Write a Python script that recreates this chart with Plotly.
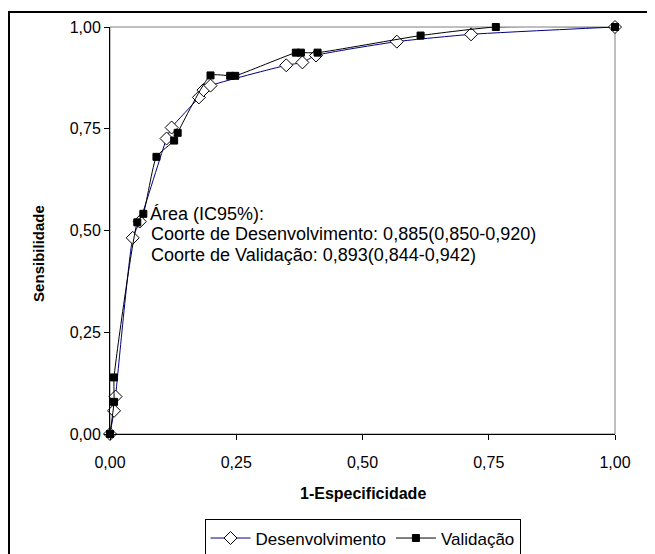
import plotly.graph_objects as go

# Desenvolvimento (development cohort)
dev_x = [0.0, 0.008, 0.011, 0.045, 0.059, 0.112, 0.122, 0.176, 0.185, 0.199,
         0.349, 0.381, 0.408, 0.568, 0.715, 1.0]
dev_y = [0.0, 0.057, 0.092, 0.482, 0.522, 0.726, 0.753, 0.827, 0.845, 0.856,
         0.906, 0.913, 0.930, 0.964, 0.982, 1.0]

# Validação (validation cohort)
val_x = [0.0, 0.008, 0.008, 0.054, 0.066, 0.092, 0.127, 0.134, 0.199, 0.238,
         0.248, 0.368, 0.378, 0.411, 0.615, 0.764, 1.0]
val_y = [0.0, 0.079, 0.139, 0.520, 0.541, 0.681, 0.721, 0.740, 0.881, 0.880,
         0.880, 0.937, 0.937, 0.937, 0.979, 1.0, 1.0]

tick_vals = [0, 0.25, 0.5, 0.75, 1.0]
tick_text = ["0,00", "0,25", "0,50", "0,75", "1,00"]

annot_lines = ["Área (IC95%):",
               "Coorte de Desenvolvimento: 0,885(0,850-0,920)",
               "Coorte de Validação: 0,893(0,844-0,942)"]

x_title = "1-Especificidade"
y_title = "Sensibilidade"

FONT = "Liberation Sans, Arial, sans-serif"

fig = go.Figure()
fig.add_trace(go.Scatter(
    x=dev_x, y=dev_y, name="Desenvolvimento", mode="lines+markers",
    line=dict(color="#000080", width=1, shape="spline", smoothing=0.5),
    marker=dict(symbol="diamond", size=10, color="white",
                line=dict(color="black", width=1)),
    cliponaxis=False,
))
fig.add_trace(go.Scatter(
    x=val_x, y=val_y, name="Validação", mode="lines+markers",
    line=dict(color="black", width=1, shape="spline", smoothing=0.5),
    marker=dict(symbol="square", size=7, color="black",
                line=dict(color="black", width=1)),
    cliponaxis=False,
))

for txt, xx, yy in zip(annot_lines, [0.075, 0.077, 0.077], [0.5405, 0.491, 0.440]):
    fig.add_annotation(
        x=xx, y=yy, xref="x", yref="y", xanchor="left", yanchor="middle",
        align="left", showarrow=False, text=txt,
        font=dict(family=FONT, size=18, color="black"),
    )

# axis titles
fig.add_annotation(x=0.5, y=-0.145, xref="paper", yref="paper",
                   xanchor="center", yanchor="middle", showarrow=False,
                   text="<b>" + x_title + "</b>",
                   font=dict(family=FONT, size=16, color="black"))
fig.add_annotation(x=-0.1406, y=0.445, xref="paper", yref="paper",
                   xanchor="center", yanchor="middle", showarrow=False,
                   textangle=-90, text="<b>" + y_title + "</b>",
                   font=dict(family=FONT, size=15, color="black"))

# plot-area frame (gray top/right)
fig.add_shape(type="rect", xref="x domain", yref="y domain", x0=0, y0=0, x1=1, y1=1,
              line=dict(color="#808080", width=1), layer="below")
# outer chart border
fig.add_shape(type="rect", xref="paper", yref="paper",
              x0=-0.200, y0=-0.40, x1=1.20, y1=1.0369,
              line=dict(color="black", width=2), layer="below")

axis_common = dict(
    range=[0, 1], tickvals=tick_vals, ticktext=tick_text,
    showgrid=False, zeroline=False, showline=True, linecolor="black", linewidth=1,
    ticks="outside", ticklen=5, tickcolor="black",
    tickfont=dict(family=FONT, size=16, color="black"),
)

fig.update_layout(
    width=655, height=554,
    margin=dict(l=102, r=48, t=19, b=128, autoexpand=False),
    paper_bgcolor="white", plot_bgcolor="white",
    font=dict(family=FONT, color="black"),
    showlegend=True,
    legend=dict(orientation="h", x=0.5, xanchor="center", y=-0.21, yanchor="top",
                bordercolor="black", borderwidth=1, bgcolor="white",
                font=dict(family=FONT, size=17, color="black"),
                itemwidth=40, tracegroupgap=0),
    xaxis=dict(**axis_common, ticklabelstandoff=9),
    yaxis=dict(**axis_common, ticksuffix="\u00a0\u00a0"),
)

fig.write_html("out.html")
